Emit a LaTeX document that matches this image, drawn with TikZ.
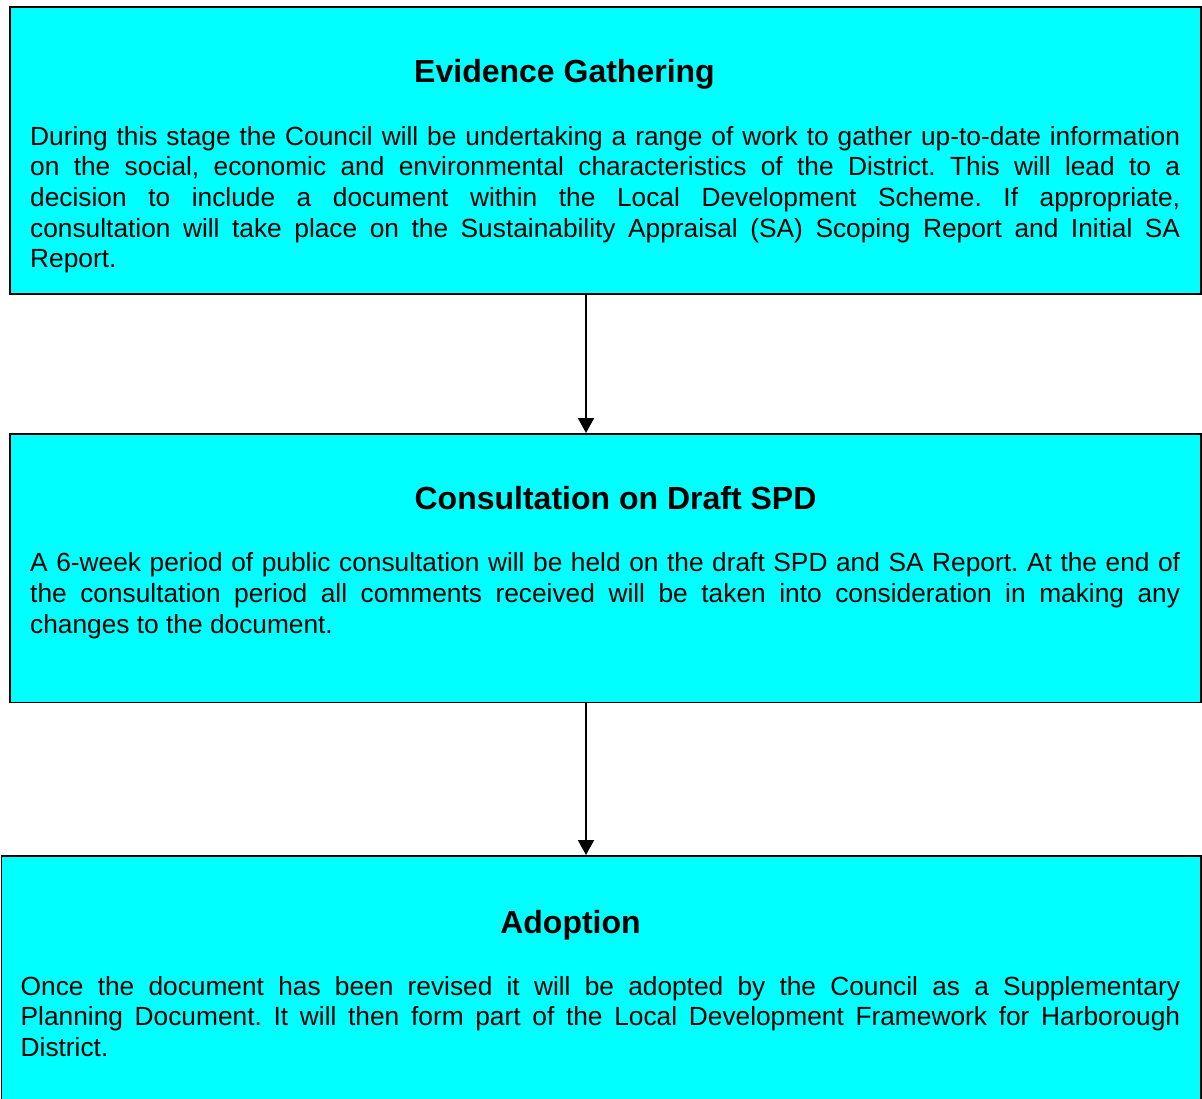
\documentclass[tikz,border=0pt]{standalone}
\usepackage{fontspec}
\setmainfont{Liberation Sans}
\usetikzlibrary{arrows.meta}
\hyphenpenalty=10000
\exhyphenpenalty=10000
\frenchspacing
\definecolor{aqua}{RGB}{0,255,255}

\tikzset{
  stage/.style={draw, line width=1.8pt, fill=aqua, inner sep=0pt, anchor=north west},
  heading/.style={font=\bfseries\fontsize{32}{36}\selectfont, inner sep=0pt, anchor=base},
  blurb/.style={font=\fontsize{26.3}{30.7}\selectfont, align=justify, inner sep=0pt, anchor=base west},
  flow/.style={line width=2pt, -{Triangle[length=15pt, width=16pt]}},
}

\begin{document}
\begin{tikzpicture}[x=1pt, y=-1pt]
    \useasboundingbox (0,0) rectangle (1202,1098);

    \node[stage, minimum width=1191pt, minimum height=287pt] (gather) at (9,6) {};
    \node[stage, minimum width=1191pt, minimum height=268.5pt] (consult) at (9,433) {};
    \node[stage, minimum width=1199.5pt, minimum height=280pt] (adopt) at (0.5,855) {};

    \node[heading] (gatherhead) at (564.5,82) {Evidence Gathering};
    \node[blurb, text width=1150pt] (gathertext) at (30,145) {During this stage the Council will be undertaking a range of work to gather up-to-date information\linebreak
      on the social, economic and environmental characteristics of the District. This will lead to a\linebreak
      decision to include a document within the Local Development Scheme. If appropriate,\linebreak
      consultation will take place on the Sustainability Appraisal (SA) Scoping Report and Initial SA\linebreak
      Report.};

    \node[heading] (consulthead) at (615.5,509) {Consultation on Draft SPD};
    \node[blurb, text width=1150pt] (consulttext) at (30,571.7) {A 6-week period of public consultation will be held on the draft SPD and SA Report. At the end of\linebreak
      the consultation period all comments received will be taken into consideration in making any\linebreak
      changes to the document.};

    \node[heading] (adopthead) at (570.5,933) {Adoption};
    \node[blurb, text width=1159.5pt] (adopttext) at (20.5,995) {Once the document has been revised it will be adopted by the Council as a Supplementary\linebreak
      Planning Document. It will then form part of the Local Development Framework for Harborough\linebreak
      District.};

    \coordinate (spine) at (586,0);
    \draw[flow] (gather.south -| spine) -- (consult.north -| spine);
    \draw[flow] (consult.south -| spine) -- (adopt.north -| spine);
\end{tikzpicture}
\end{document}
